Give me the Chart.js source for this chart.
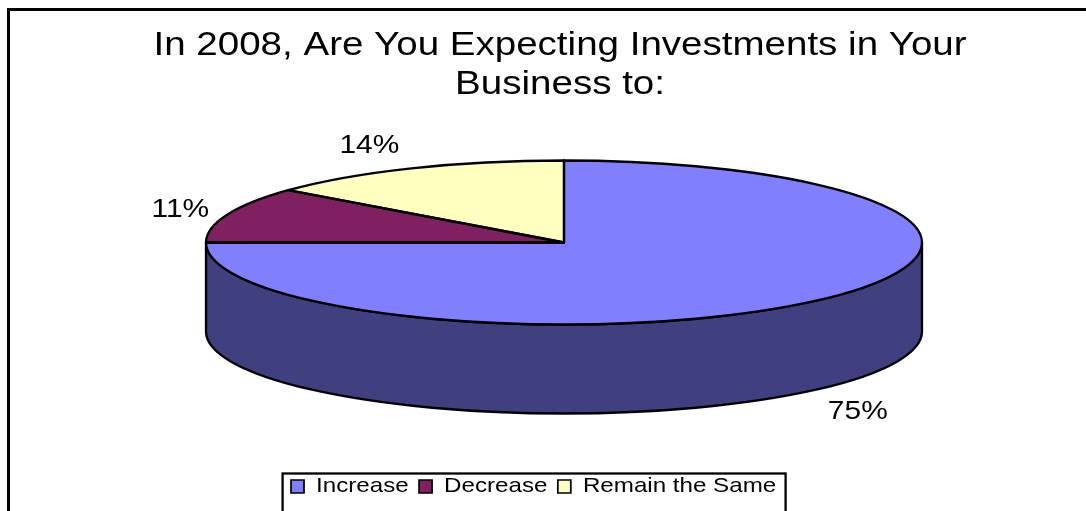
<!DOCTYPE html>
<html>
<head>
<meta charset="utf-8">
<title>Investments in 2008</title>
<script src="https://cdn.jsdelivr.net/npm/chart.js@4.4.1/dist/chart.umd.min.js"></script>
<style>
  html, body { margin: 0; padding: 0; background: #fff; }
  #wrap { width: 1086px; height: 511px; overflow: hidden; }
  canvas { display: block; }
</style>
</head>
<body>
<div id="wrap"><canvas id="chart" width="1086" height="511"></canvas></div>
<script>
// ---- data ----
const categories = ['Increase', 'Decrease', 'Remain the Same'];
const shares = [75, 11, 14];
const titleLines = ['In 2008, Are You Expecting Investments in Your', 'Business to:'];

// ---- styling ----
const sliceColors = ['#8080FF', '#802060', '#FFFFC0'];
const FONT = '"Liberation Sans", Arial, Helvetica, sans-serif';
const STRETCH = 1.15;                 // horizontal widening of the whole drawing
const PIE = { cx: 564, cy: 242.5, rx: 358, ry: 82, depth: 89, labelGap: 47 };
const EDGE = 2.3;                     // outline width of the disc

function shade(hex, f) {
  const n = parseInt(hex.slice(1), 16);
  const r = (n >> 16) & 255, g = (n >> 8) & 255, b = n & 255;
  return `rgb(${Math.round(r * f)},${Math.round(g * f)},${Math.round(b * f)})`;
}

// Turns the flat pie into a tilted disc with a visible rim, plus frame and labels.
const pie3d = {
  id: 'pie3d',
  afterLayout(chart) {
    const lg = chart.legend;
    const dx = -23;
    lg.left += dx; lg.right += dx;
    const h = lg.bottom - lg.top;
    lg.top = 467; lg.bottom = lg.top + h;
  },
  beforeDraw(chart) {
    const ctx = chart.ctx;
    chart.$base = ctx.getTransform();
    ctx.save();
    ctx.scale(STRETCH, 1);
  },
  beforeDatasetsDraw(chart) {
    const ctx = chart.ctx;
    const arcs = chart.getDatasetMeta(0).data;
    ctx.save();
    ctx.setTransform(chart.$base);
    ctx.lineWidth = EDGE;
    ctx.strokeStyle = '#000';
    ctx.lineJoin = 'round';
    arcs.forEach((arc, i) => {
      const { startAngle, endAngle } = arc.getProps(['startAngle', 'endAngle'], true);
      const a = Math.max(startAngle, 0), b = Math.min(endAngle, Math.PI);
      if (b <= a) return;
      ctx.beginPath();
      ctx.ellipse(PIE.cx, PIE.cy, PIE.rx, PIE.ry, 0, a, b);
      ctx.ellipse(PIE.cx, PIE.cy + PIE.depth, PIE.rx, PIE.ry, 0, b, a, true);
      ctx.closePath();
      ctx.fillStyle = shade(sliceColors[i], 0.5);
      ctx.fill();
      ctx.stroke();
    });
    ctx.restore();
    // the library's circular slices are mapped onto the elliptical top face
    const { x, y, outerRadius } = arcs[0].getProps(['x', 'y', 'outerRadius'], true);
    ctx.save();
    ctx.setTransform(chart.$base);
    ctx.translate(PIE.cx, PIE.cy);
    ctx.scale(PIE.rx / outerRadius, PIE.ry / outerRadius);
    ctx.translate(-x, -y);
  },
  afterDatasetsDraw(chart) {
    const ctx = chart.ctx;
    ctx.restore();
    const arcs = chart.getDatasetMeta(0).data;
    const values = chart.data.datasets[0].data;
    const total = values.reduce((s, v) => s + v, 0);
    ctx.save();
    ctx.setTransform(chart.$base);
    ctx.lineWidth = EDGE;
    ctx.strokeStyle = '#000';
    ctx.lineJoin = 'round';
    arcs.forEach((arc) => {
      const { startAngle: a, endAngle: b } = arc.getProps(['startAngle', 'endAngle'], true);
      ctx.beginPath();
      ctx.moveTo(PIE.cx, PIE.cy);
      ctx.lineTo(PIE.cx + PIE.rx * Math.cos(a), PIE.cy + PIE.ry * Math.sin(a));
      ctx.ellipse(PIE.cx, PIE.cy, PIE.rx, PIE.ry, 0, a, b);
      ctx.closePath();
      ctx.stroke();
    });
    // percentage labels outside each slice
    ctx.fillStyle = '#000';
    ctx.font = `26px ${FONT}`;
    ctx.textAlign = 'center';
    ctx.textBaseline = 'middle';
    arcs.forEach((arc, i) => {
      const { startAngle: a, endAngle: b } = arc.getProps(['startAngle', 'endAngle'], true);
      const mid = (a + b) / 2;
      const px = PIE.rx * Math.cos(mid);
      const py = PIE.ry * Math.sin(mid) + (Math.sin(mid) > 0 ? PIE.depth : 0);
      const len = Math.hypot(px, py);
      const k = (len + PIE.labelGap) / len;
      const text = Math.round(values[i] / total * 100) + '%';
      ctx.save();
      ctx.translate(PIE.cx + px * k, PIE.cy + py * k - 1.5);
      ctx.scale(STRETCH, 1);
      ctx.fillText(text, 0, 0);
      ctx.restore();
    });
    ctx.restore();
  },
  afterDraw(chart) {
    const ctx = chart.ctx;
    ctx.restore();
    ctx.save();
    ctx.setTransform(chart.$base);
    ctx.strokeStyle = '#000';
    // outer frame
    ctx.lineWidth = 3;
    ctx.strokeRect(8.5, 9.5, 1300, 700);
    // box round the legend
    const lg = chart.legend;
    const c = (lg.left + lg.right) / 2 * STRETCH;
    ctx.lineWidth = 2.3;
    ctx.strokeRect(c - 251, lg.top + 6.5, 503, 80);
    ctx.restore();
  }
};

const baseLabels = (Chart.overrides.pie && Chart.overrides.pie.plugins && Chart.overrides.pie.plugins.legend)
  ? Chart.overrides.pie.plugins.legend.labels.generateLabels
  : Chart.overrides.doughnut.plugins.legend.labels.generateLabels;

new Chart(document.getElementById('chart'), {
  type: 'pie',
  data: {
    labels: categories,
    datasets: [{
      data: shares,
      backgroundColor: sliceColors,
      borderWidth: 0,
      hoverOffset: 0,
      clip: false
    }]
  },
  options: {
    responsive: false,
    animation: false,
    events: [],
    layout: { padding: { left: 0, right: 112, top: 0, bottom: 0 } },
    plugins: {
      tooltip: { enabled: false },
      title: {
        display: true,
        text: titleLines,
        color: '#000',
        font: { family: FONT, size: 33.5, weight: 'normal', lineHeight: 1.164 },
        padding: { top: 26, bottom: 10 }
      },
      legend: {
        position: 'bottom',
        labels: {
          color: '#000',
          font: { family: FONT, size: 21 },
          boxWidth: 11.3,
          boxHeight: 13,
          padding: 9,
          generateLabels(chart) {
            return baseLabels(chart).map(it => Object.assign(it, { strokeStyle: '#000', lineWidth: 1.5 }));
          }
        }
      }
    }
  },
  plugins: [pie3d]
});
</script>
</body>
</html>
